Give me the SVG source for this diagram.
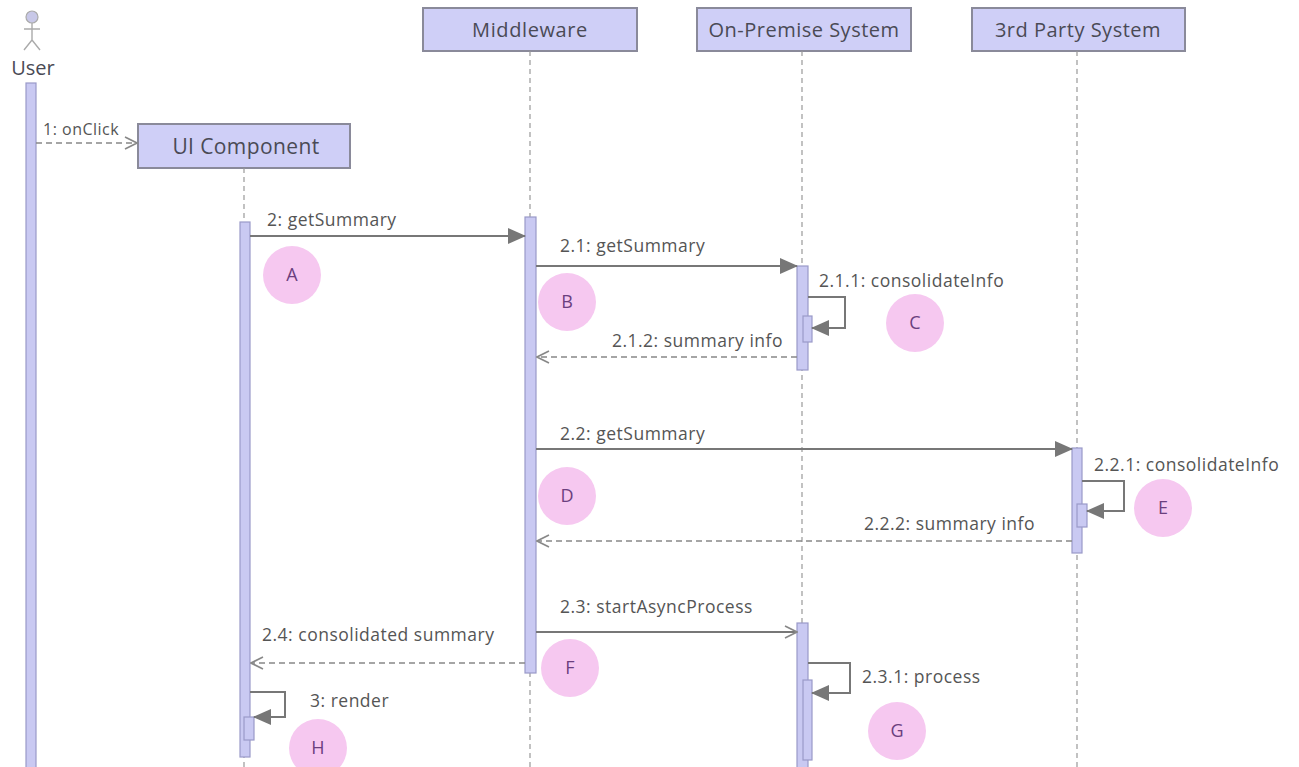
<svg xmlns="http://www.w3.org/2000/svg" width="1299" height="767" viewBox="0 0 1299 767">
<style>
.box{fill:#cfcff7;stroke:#8a8a9a;stroke-width:2}
.ttl{font-family:"Open Sans","Noto Sans",sans-serif;font-size:20px;fill:#4a4a55;text-anchor:middle}
.life{stroke:#999;stroke-width:1.2;stroke-dasharray:5,4;fill:none}
.act{fill:#c9c9f2;stroke:#9a9ac8;stroke-width:1.2}
.msg{stroke:#777;stroke-width:2;fill:none}
.ret{stroke:#888;stroke-width:1.6;stroke-dasharray:6,4;fill:none}
.lbl{font-family:"Open Sans","Noto Sans",sans-serif;font-size:17.5px;letter-spacing:0.5px;fill:#555}
.circ{fill:#f6c8f0}
.let{font-family:"Open Sans","Noto Sans",sans-serif;font-size:18px;fill:#6b3f7e;text-anchor:middle}
</style>
<defs>
<marker id="bigfill" viewBox="0 0 18 16" refX="17" refY="8" markerWidth="18" markerHeight="16" markerUnits="userSpaceOnUse" orient="auto"><path d="M0,0 L18,8 L0,16 Z" fill="#777"/></marker>
<marker id="open" viewBox="0 0 14 14" refX="13" refY="7" markerWidth="14" markerHeight="14" markerUnits="userSpaceOnUse" orient="auto"><path d="M1,1 L13,7 L1,13" fill="none" stroke="#888" stroke-width="1.6"/></marker>
</defs>
<rect width="1299" height="767" fill="#fff"/>

<g id="user">
<circle cx="32" cy="17" r="6" fill="#c8c8e8" stroke="#aaa" stroke-width="1.2"/>
<path d="M32,23 V40 M24,29 H40 M32,40 L24,50 M32,40 L40,50" stroke="#aaa" stroke-width="1.4" fill="none"/>
<text x="33" y="75" class="ttl" font-size="20">User</text>
<rect x="26" y="83" width="10" height="690" class="act"/>
</g>

<g id="ui">
<rect x="138" y="124" width="212" height="44" class="box"/>
<text x="246" y="154" class="ttl" style="font-size:21px;letter-spacing:0.4px">UI Component</text>
<line x1="244" y1="168" x2="244" y2="767" class="life"/>
<rect x="240" y="222" width="10" height="535" class="act"/>
<rect x="244" y="717" width="10" height="23" class="act"/>
</g>

<g id="middleware">
<rect x="423" y="8" width="214" height="43" class="box"/>
<text x="530" y="37" class="ttl" style="letter-spacing:0.6px">Middleware</text>
<line x1="530" y1="51" x2="530" y2="767" class="life"/>
<rect x="525" y="217" width="11" height="456" class="act"/>
</g>

<g id="onpremise">
<rect x="697" y="8" width="214" height="43" class="box"/>
<text x="804" y="37" class="ttl" style="letter-spacing:0.5px">On-Premise System</text>
<line x1="802" y1="51" x2="802" y2="767" class="life"/>
<rect x="797" y="266" width="11" height="104" class="act"/>
<rect x="803" y="316" width="9" height="26" class="act"/>
<rect x="797" y="623" width="11" height="150" class="act"/>
<rect x="803" y="680" width="9" height="80" class="act"/>
</g>

<g id="thirdparty">
<rect x="972" y="8" width="213" height="43" class="box"/>
<text x="1078" y="37" class="ttl" style="letter-spacing:0.5px">3rd Party System</text>
<line x1="1077" y1="51" x2="1077" y2="767" class="life"/>
<rect x="1072" y="448" width="10" height="105" class="act"/>
<rect x="1077" y="504" width="10" height="23" class="act"/>
</g>

<g id="connectors">
<line x1="36" y1="143" x2="137" y2="143" class="ret" marker-end="url(#open)"/>
<text x="43" y="135" class="lbl" style="font-size:16px">1: onClick</text>

<line x1="250" y1="236" x2="525" y2="236" class="msg" marker-end="url(#bigfill)"/>
<text x="267" y="226" class="lbl">2: getSummary</text>

<line x1="536" y1="266" x2="797" y2="266" class="msg" marker-end="url(#bigfill)"/>
<text x="560" y="252" class="lbl">2.1: getSummary</text>

<path d="M808,297 H845 V328 H812" class="msg" marker-end="url(#bigfill)"/>
<text x="819" y="287" class="lbl">2.1.1: consolidateInfo</text>

<line x1="797" y1="357" x2="537" y2="357" class="ret" marker-end="url(#open)"/>
<text x="783" y="347" class="lbl" text-anchor="end">2.1.2: summary info</text>

<line x1="536" y1="449" x2="1072" y2="449" class="msg" marker-end="url(#bigfill)"/>
<text x="560" y="440" class="lbl">2.2: getSummary</text>

<path d="M1082,481 H1124 V511 H1087" class="msg" marker-end="url(#bigfill)"/>
<text x="1094" y="471" class="lbl">2.2.1: consolidateInfo</text>

<line x1="1072" y1="541" x2="537" y2="541" class="ret" marker-end="url(#open)"/>
<text x="1035" y="530" class="lbl" text-anchor="end">2.2.2: summary info</text>

<line x1="536" y1="632" x2="797" y2="632" class="msg" marker-end="url(#open)"/>
<text x="560" y="613" class="lbl">2.3: startAsyncProcess</text>

<line x1="525" y1="663" x2="251" y2="663" class="ret" marker-end="url(#open)"/>
<text x="262" y="641" class="lbl">2.4: consolidated summary</text>

<path d="M808,663 H850 V693 H812" class="msg" marker-end="url(#bigfill)"/>
<text x="862" y="683" class="lbl">2.3.1: process</text>

<path d="M250,692 H285 V717 H254" class="msg" marker-end="url(#bigfill)"/>
<text x="310" y="707" class="lbl">3: render</text>
</g>

<g id="markers">
<circle cx="292" cy="275" r="29" class="circ"/><text x="292" y="281" class="let">A</text>
<circle cx="567" cy="302" r="29" class="circ"/><text x="567" y="308" class="let">B</text>
<circle cx="915" cy="323" r="29" class="circ"/><text x="915" y="329" class="let">C</text>
<circle cx="567" cy="496" r="29" class="circ"/><text x="567" y="502" class="let">D</text>
<circle cx="1163" cy="508" r="29" class="circ"/><text x="1163" y="514" class="let">E</text>
<circle cx="570" cy="668" r="29" class="circ"/><text x="570" y="674" class="let">F</text>
<circle cx="897" cy="731" r="29" class="circ"/><text x="897" y="737" class="let">G</text>
<circle cx="318" cy="748" r="29" class="circ"/><text x="318" y="754" class="let">H</text>
</g>
</svg>
